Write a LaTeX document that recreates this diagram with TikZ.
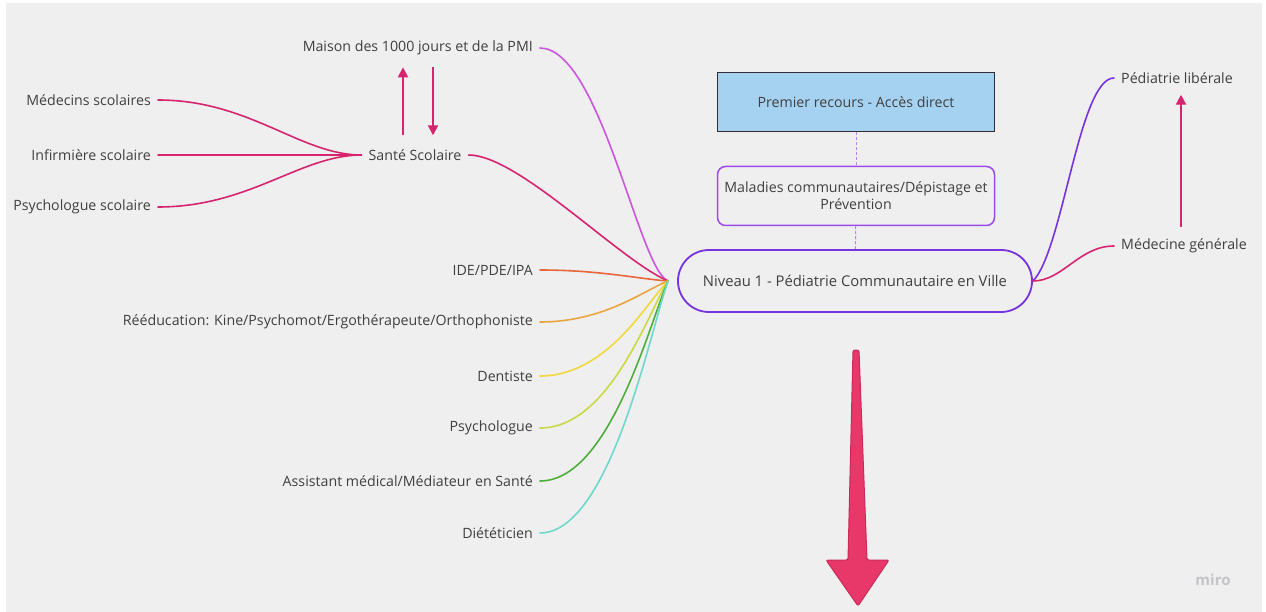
\documentclass[tikz,border=0pt]{standalone}
\usepackage{fontspec}
\setmainfont{Open Sans}
\usepackage{tikz}
\usetikzlibrary{arrows.meta}
\usetikzlibrary{positioning}
\definecolor{bggray}{HTML}{EFEFEF}
\definecolor{txtgray}{HTML}{404040}
\definecolor{rose}{HTML}{D6246E}
\definecolor{orchid}{HTML}{CC55DD}
\definecolor{purpleline}{HTML}{7733DD}
\definecolor{boxpurple}{HTML}{9A4BE8}
\definecolor{darkline}{HTML}{2E2E33}
\definecolor{skyfill}{HTML}{A6D2F2}
\definecolor{bigpink}{HTML}{E8386A}
\definecolor{bigpinkdark}{HTML}{C92A5A}
\definecolor{mirogray}{HTML}{C4C4C8}
\definecolor{cIDE}{HTML}{E8663A}
\definecolor{cREE}{HTML}{EBA540}
\definecolor{cDEN}{HTML}{F0D83A}
\definecolor{cPSY}{HTML}{C9D943}
\definecolor{cASS}{HTML}{4DAF3A}
\definecolor{cDIE}{HTML}{6ED8CC}

\begin{document}
\begin{tikzpicture}[x=1pt,y=-1pt,
  every node/.style={font=\fontsize{14.2}{17}\selectfont,text=txtgray},
  leaf/.style={inner xsep=7pt,inner ysep=2pt},
  branch/.style={line width=1.6pt,line cap=round},
  smallarr/.style={draw=rose,line width=2pt,-{Triangle[width=10pt,length=10pt]}}]
\useasboundingbox (0,0) rectangle (1266,612);
\fill[bggray] (6,3) rectangle (1262,612);

  \node (recours) at (856,102)[draw=darkline,line width=1.8pt,fill=skyfill,minimum width=277pt,minimum height=59pt]{Premier recours - Accès direct};
  \node (maladies) at (856,196)[draw=boxpurple,line width=1.5pt,rounded corners=8pt,minimum width=277pt,minimum height=59pt,align=center]{Maladies communautaires/Dépistage et\\Prévention};
  \node (niveau) at (855,281)[draw=purpleline,line width=1.8pt,rounded corners=31pt,minimum width=354pt,minimum height=62pt,font=\fontsize{14.8}{17}\selectfont]{Niveau 1 - Pédiatrie Communautaire en Ville};
  \coordinate (hub) at ([xshift=-9pt]niveau.west);

  \node (maison) at (540,48)[leaf,anchor=east]{Maison des 1000 jours et de la PMI};
  \node (sante) at (415,155)[leaf]{Santé Scolaire};
  \node (medsco) at (158,100)[leaf,anchor=east]{Médecins scolaires};
  \node (infsco) at (158,155)[leaf,anchor=east]{Infirmière scolaire};
  \node (psysco) at (158,207)[leaf,anchor=east]{Psychologue scolaire};
  \node (ide) at (540,270)[leaf,anchor=east]{IDE/PDE/IPA};
  \node (reed) at (540,322)[leaf,anchor=east]{Rééducation: Kine/Psychomot/Ergothérapeute/Orthophoniste};
  \node (dent) at (540,376)[leaf,anchor=east]{Dentiste};
  \node (psy) at (540,428)[leaf,anchor=east]{Psychologue};
  \node (assist) at (540,481)[leaf,anchor=east]{Assistant médical/Médiateur en Santé};
  \node (diet) at (540,533)[leaf,anchor=east]{Diététicien};
  \node (pedlib) at (1114,78)[leaf,anchor=west]{Pédiatrie libérale};
  \node (medgen) at (1114,246)[leaf,anchor=west]{Médecine générale};
  \node (miro) at (1213,580)[text=mirogray,font=\fontsize{15}{17}\selectfont\bfseries]{miro};

  \draw[densely dashed,boxpurple!70,line width=1pt](recours)--(maladies);
  \draw[densely dashed,boxpurple!70,line width=1pt](maladies)--(niveau);

  \draw[branch,rose](medsco.east) .. controls +(92,0) and +(-61,0) .. (sante.west);
  \draw[branch,rose](infsco.east)--(sante.west);
  \draw[branch,rose](psysco.east) .. controls +(92,0) and +(-61,0) .. (sante.west);
  \draw[branch,orchid](maison.east) .. controls +(60,0) and +(-29,-11) .. (hub);
  \draw[branch,rose](sante.east) .. controls +(50,0) and +(-49,-21) .. (hub);
  \draw[branch,cIDE](ide.east) .. controls +(60,0) and +(-29,-2) .. (hub);
  \draw[branch,cREE](reed.east) .. controls +(65,0) and +(-22,8) .. (hub);
  \draw[branch,cDEN](dent.east) .. controls +(68,0) and +(-20,19) .. (hub);
  \draw[branch,cPSY](psy.east) .. controls +(70,0) and +(-19,29) .. (hub);
  \draw[branch,cASS](assist.east) .. controls +(70,0) and +(-18,40) .. (hub);
  \draw[branch,cDIE](diet.east) .. controls +(70,0) and +(-18,50) .. (hub);
  \draw[branch,purpleline](niveau.east) .. controls +(30,-30) and +(-35,0) .. (pedlib.west);
  \draw[branch,rose](niveau.east) .. controls +(30,0) and +(-35,0) .. (medgen.west);

  \draw[smallarr,shorten <=12pt,shorten >=10pt]([xshift=-12pt]sante.north)--([xshift=-12pt]sante.north |- maison.south);
  \draw[smallarr,shorten <=10pt,shorten >=12pt]([xshift=18pt]sante.north |- maison.south)--([xshift=18pt]sante.north);
  \draw[smallarr,shorten <=10pt,shorten >=9pt]([xshift=-3pt]medgen.north)--([xshift=-3pt]medgen.north |- pedlib.south);

  \filldraw[fill=bigpink,draw=bigpinkdark,line width=1pt,rounded corners=2pt](853,350)--(859,350)--(867,560)--(889,560)--(858,606)--(826,560)--(848,560)--cycle;
\end{tikzpicture}
\end{document}
